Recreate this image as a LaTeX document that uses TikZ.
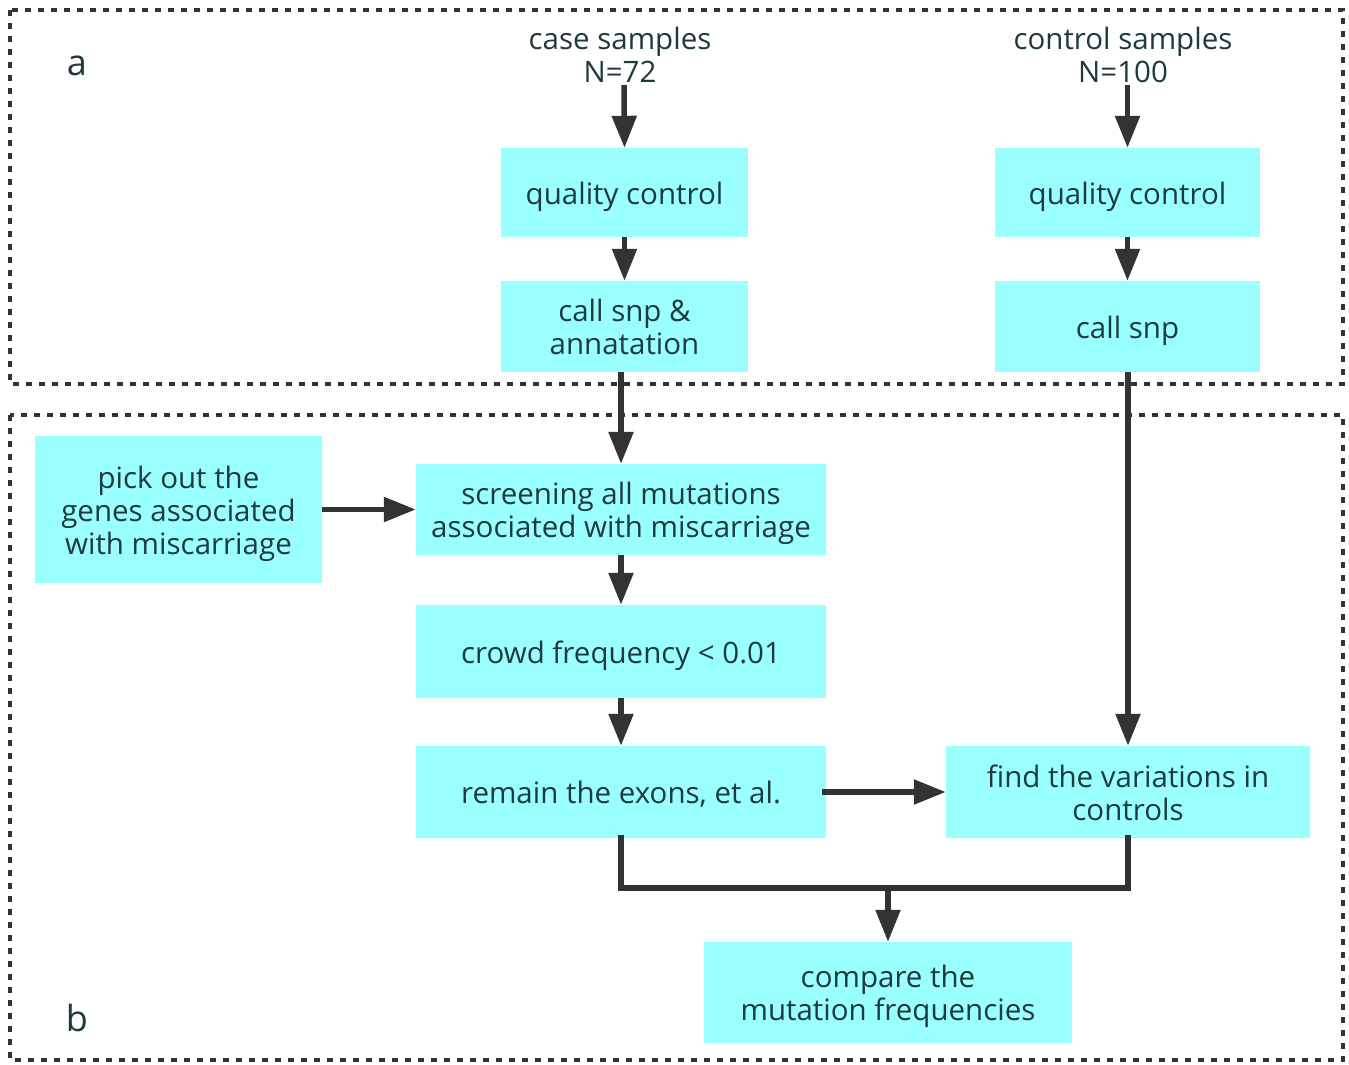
\documentclass[tikz,border=0pt]{standalone}
\usepackage{fontspec}
\setmainfont{Open Sans}
\usetikzlibrary{arrows.meta}
\definecolor{boxc}{HTML}{99FFFF}
\definecolor{txtc}{HTML}{1E3A3C}
\definecolor{linec}{HTML}{333333}
\newcommand{\lowtxt}[1]{\raisebox{-5pt}[\height][\depth]{\begin{tabular}{@{}c@{}}#1\end{tabular}}}
\begin{document}
\begin{tikzpicture}[x=1pt,y=-1pt,
  every node/.style={font=\fontsize{29.5}{33}\selectfont, text=txtc},
  box/.style={fill=boxc, draw=none, inner sep=0pt},
  arr/.style={draw=linec, line width=5.5pt, -{Triangle[length=32pt,width=24pt]}},
  ln/.style={draw=linec, line width=5.5pt},
  frame/.style={draw=linec, line width=3.5pt, dash pattern=on 6pt off 7pt}]
\useasboundingbox (0,0) rectangle (1349,1065);
\fill[white] (0,0) rectangle (1349,1065);
\draw[frame] (10,10) rectangle (1343,384);
\draw[frame] (10,415) rectangle (1343,1060);
\node (la) at (77,66) {\fontsize{36}{36}\selectfont a};
\node (lb) at (77,1018) {\fontsize{36}{36}\selectfont b};
\node[align=center] (case) at (620,55) {case samples\\N=72};
\node[align=center] (ctrl) at (1123,55) {control samples\\N=100};
\coordinate (caseo) at (624,85);
\coordinate (ctrlo) at (1127.5,85);
\node[box, minimum width=247pt, minimum height=89pt] (qc1) at (624.5,192.5) {\lowtxt{quality control}};
\node[box, minimum width=265pt, minimum height=89pt] (qc2) at (1127.5,192.5) {\lowtxt{quality control}};
\node[box, minimum width=247pt, minimum height=91pt] (cs1) at (624.5,326.5) {\lowtxt{call snp \&\\annatation}};
\node[box, minimum width=265pt, minimum height=91pt] (cs2) at (1127.5,326.5) {\lowtxt{call snp}};
\node[box, minimum width=287pt, minimum height=147pt] (pick) at (178.5,509.5) {\lowtxt{pick out the\\genes associated\\with miscarriage}};
\node[box, minimum width=410pt, minimum height=91pt] (screen) at (621,509.5) {\lowtxt{screening all mutations\\associated with miscarriage}};
\node[box, minimum width=410pt, minimum height=93pt] (crowd) at (621,651.5) {\lowtxt{crowd frequency < 0.01}};
\node[box, minimum width=410pt, minimum height=92pt] (remain) at (621,792) {\lowtxt{remain the exons, et al.}};
\node[box, minimum width=364pt, minimum height=92pt] (find) at (1128,792) {\lowtxt{find the variations in\\controls}};
\node[box, minimum width=368pt, minimum height=101pt] (compare) at (888,992.5) {\lowtxt{compare the\\mutation frequencies}};
\coordinate (j1) at (621,888);
\coordinate (j2) at (1128,888);
\coordinate (jm) at (888,888);
\draw[arr] (caseo) -- (qc1.north);
\draw[arr] (ctrlo) -- (qc2.north);
\draw[arr] (qc1.south) -- (cs1.north);
\draw[arr] (qc2.south) -- (cs2.north);
\draw[arr] (cs1.south -| screen.north) -- (screen.north);
\draw[arr] (cs2.south -| find.north) -- (find.north);
\draw[arr] (pick.east) -- (screen.west);
\draw[arr] (screen.south) -- (crowd.north);
\draw[arr] (crowd.south) -- (remain.north);
\draw[arr] ([xshift=-4pt]remain.east) -- (find.west);
\draw[ln, line cap=rect] (remain.south) -- (j1) -- (j2) -- (find.south);
\draw[arr] (jm) -- (compare.north);
\end{tikzpicture}
\end{document}
